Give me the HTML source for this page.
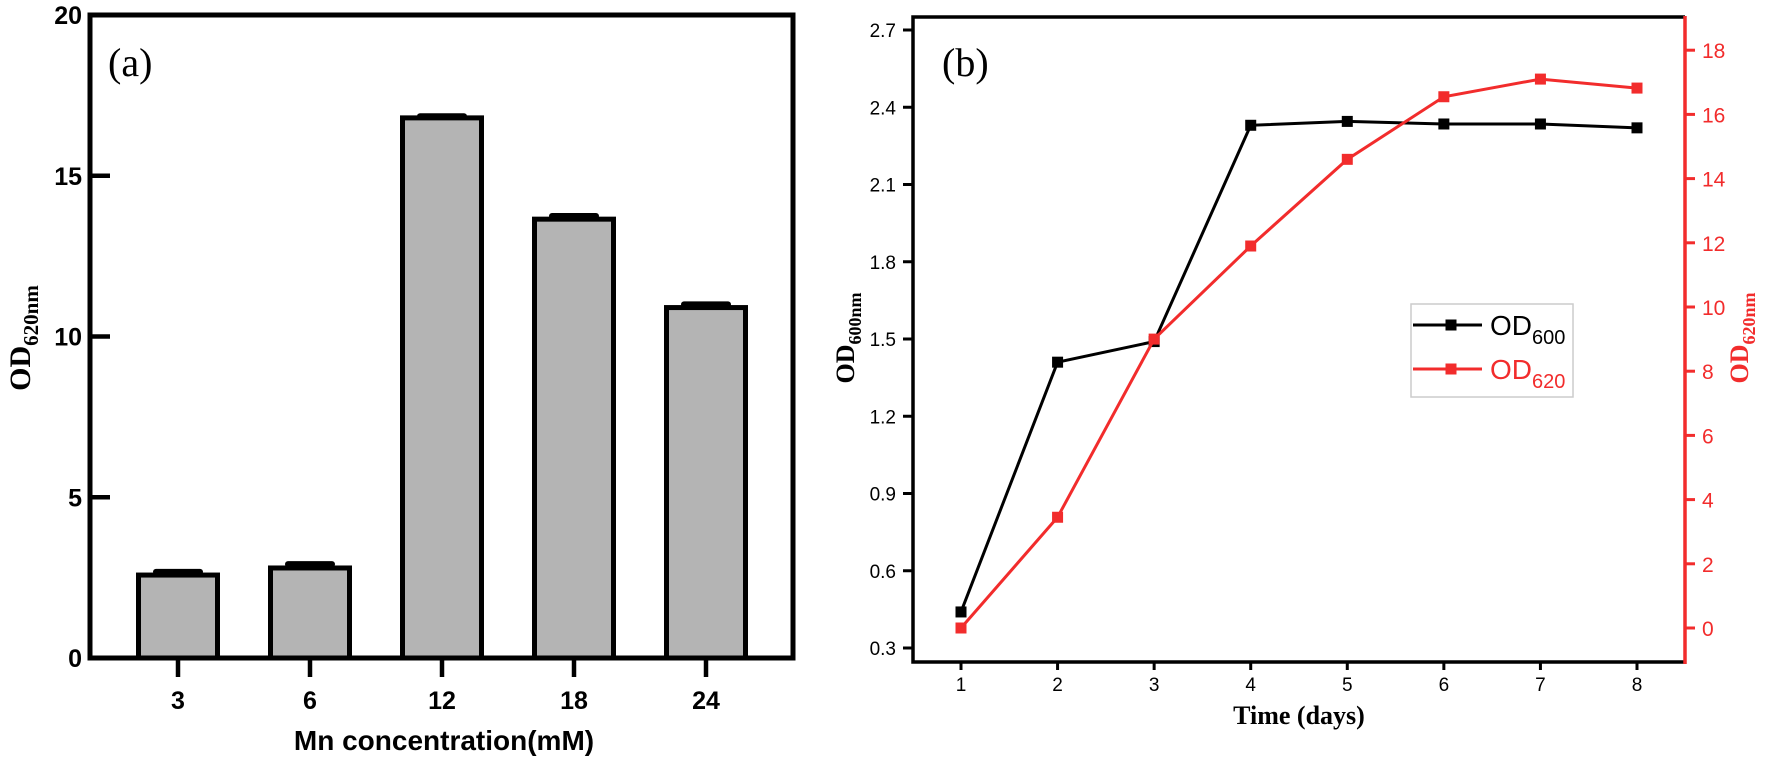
<!DOCTYPE html>
<html><head><meta charset="utf-8"><style>
html,body{margin:0;padding:0;background:#fff;}
svg{display:block;}
</style></head><body>
<svg id="fig" width="1772" height="765" viewBox="0 0 1772 765" xmlns="http://www.w3.org/2000/svg">
<g id="pa"></g>
<g id="pb"></g>
</svg>
<script>
// Panel (a) data
const aCategories = ["3","6","12","18","24"];
const aValues = [2.58, 2.8, 16.8, 13.65, 10.9];
const aErrors = [0.1, 0.12, 0.05, 0.1, 0.1];
const aYTicks = [0,5,10,15,20];
// Panel (b) data
const bDays = [1,2,3,4,5,6,7,8];
const bOD600 = [0.44, 1.41, 1.49, 2.33, 2.345, 2.335, 2.335, 2.32];
const bOD620 = [0, 3.45, 9.0, 11.9, 14.6, 16.55, 17.1, 16.82];
const bLeftTicks = ["0.3","0.6","0.9","1.2","1.5","1.8","2.1","2.4","2.7"];
const bRightTicks = [0,2,4,6,8,10,12,14,16,18];

const NS="http://www.w3.org/2000/svg";
function mk(parent,tag,attrs,text){const e=document.createElementNS(NS,tag);for(const k in attrs)e.setAttribute(k,attrs[k]);if(text!==undefined)e.textContent=text;parent.appendChild(e);return e;}
const RED="#f22c2c";

// ---------- Panel A ----------
const pa=document.getElementById('pa');
const aL=90,aR=793,aT=15,aB=658;
const ay=v=>aB-(v/20)*(aB-aT);
const ax=i=>178+i*132;
aYTicks.forEach(t=>{
  const tk=mk(pa,'line',{x1:aL,x2:aL+20,y1:ay(t),y2:ay(t),stroke:'#000','stroke-width':4.5});
  
  
  const lb=mk(pa,'text',{x:82,y:ay(t)+9,'text-anchor':'end','font-family':'Liberation Sans, sans-serif','font-weight':'bold','font-size':25},String(t));
  
  
});
aValues.forEach((v,i)=>{
  const cx=ax(i),w=79;
  const cap=mk(pa,'rect',{x:cx-25,y:ay(v+aErrors[i])-3,width:50,height:6,rx:3,fill:'#000'});
  
  
  const b=mk(pa,'rect',{x:cx-w/2,y:ay(v),width:w,height:aB-ay(v),fill:'#b4b4b4',stroke:'#000','stroke-width':5});
  
  
  const tk=mk(pa,'line',{x1:cx,x2:cx,y1:aB,y2:aB+19,stroke:'#000','stroke-width':4.5});
  
  
  const lb=mk(pa,'text',{x:cx,y:709,'text-anchor':'middle','font-family':'Liberation Sans, sans-serif','font-weight':'bold','font-size':25},aCategories[i]);
  
  
});
const af=mk(pa,'rect',{x:aL,y:aT,width:aR-aL,height:aB-aT,fill:'none',stroke:'#000','stroke-width':5});


const al=mk(pa,'text',{x:108,y:76,'font-family':'Liberation Serif, serif','font-size':40},'(a)');


const axt=mk(pa,'text',{x:444,y:750,'text-anchor':'middle','font-family':'Liberation Sans, sans-serif','font-weight':'bold','font-size':28},'Mn concentration(mM)');


const ayt=mk(pa,'text',{transform:'translate(30,338) rotate(-90)','text-anchor':'middle','font-family':'Liberation Serif, serif','font-weight':'bold','font-size':30});


mk(ayt,'tspan',{},'OD');mk(ayt,'tspan',{'font-size':21,dy:8},'620nm');

// ---------- Panel B ----------
const pb=document.getElementById('pb');
const bL=913,bR=1685,bT=17,bB=662;
const bx=d=>961+(d-1)*(1637-961)/7;
const byL=v=>648-(v-0.3)/0.3*77.25;
const byR=v=>628-v*32.1;
const bf=mk(pb,'path',{d:`M${bR},${bT} L${bL},${bT} L${bL},${bB} L${bR},${bB}`,fill:'none',stroke:'#000','stroke-width':3.5});


const ra=mk(pb,'line',{x1:bR,x2:bR,y1:bT-1,y2:bB+2,stroke:RED,'stroke-width':3.5});


bLeftTicks.forEach(t=>{
  const y=byL(parseFloat(t));
  const tk=mk(pb,'line',{x1:bL-10,x2:bL,y1:y,y2:y,stroke:'#000','stroke-width':3});
  
  
  const lb=mk(pb,'text',{x:bL-17,y:y+7,'text-anchor':'end','font-family':'Liberation Sans, sans-serif','font-size':19},t);
  
  
});
bRightTicks.forEach(t=>{
  const y=byR(t);
  const tk=mk(pb,'line',{x1:bR,x2:bR+10,y1:y,y2:y,stroke:RED,'stroke-width':3});
  
  
  const lb=mk(pb,'text',{x:bR+17,y:y+8,'font-family':'Liberation Sans, sans-serif','font-size':21,fill:RED},String(t));
  
  
});
bDays.forEach(d=>{
  const tk=mk(pb,'line',{x1:bx(d),x2:bx(d),y1:bB,y2:bB+8,stroke:'#000','stroke-width':3});
  
  
  const lb=mk(pb,'text',{x:bx(d),y:691,'text-anchor':'middle','font-family':'Liberation Sans, sans-serif','font-size':19},String(d));
  
  
});
function series(vals,yf,color,name){
  const pts=vals.map((v,i)=>bx(bDays[i])+','+yf(v)).join(' ');
  const pl=mk(pb,'polyline',{points:pts,fill:'none',stroke:color,'stroke-width':3});
  
  
  vals.forEach((v,i)=>{
    const m=mk(pb,'rect',{x:bx(bDays[i])-5.5,y:yf(v)-5.5,width:11,height:11,fill:color});
    
    
  });
}
series(bOD600,byL,'#000','od600');
series(bOD620,byR,RED,'od620');
const bl=mk(pb,'text',{x:942,y:76,'font-family':'Liberation Serif, serif','font-size':40},'(b)');


const bxt=mk(pb,'text',{x:1299,y:724,'text-anchor':'middle','font-family':'Liberation Serif, serif','font-weight':'bold','font-size':26},'Time (days)');


const blt=mk(pb,'text',{transform:'translate(854,338) rotate(-90)','text-anchor':'middle','font-family':'Liberation Serif, serif','font-weight':'bold','font-size':26});


mk(blt,'tspan',{},'OD');mk(blt,'tspan',{'font-size':18,dy:7},'600nm');
const brt=mk(pb,'text',{transform:'translate(1748,338) rotate(-90)','text-anchor':'middle','font-family':'Liberation Serif, serif','font-weight':'bold','font-size':26,fill:RED});


mk(brt,'tspan',{},'OD');mk(brt,'tspan',{'font-size':18,dy:7},'620nm');
// legend
const lg=mk(pb,'g',{});


mk(lg,'rect',{x:1411,y:304,width:162,height:93,fill:'#fff',stroke:'#ccc','stroke-width':1.5});
[['OD','600','#000',325],['OD','620',RED,369]].forEach(e=>{
  const g=mk(lg,'g',{});
  
  
  mk(g,'line',{x1:1413,x2:1482,y1:e[3],y2:e[3],stroke:e[2],'stroke-width':3});
  mk(g,'rect',{x:1445.5,y:e[3]-5.5,width:11,height:11,fill:e[2]});
  const t=mk(g,'text',{x:1490,y:e[3]+10,'font-family':'Liberation Sans, sans-serif','font-size':28,fill:e[2]});
  mk(t,'tspan',{},e[0]);mk(t,'tspan',{'font-size':20,dy:9},e[1]);
});
</script>
</body></html>
